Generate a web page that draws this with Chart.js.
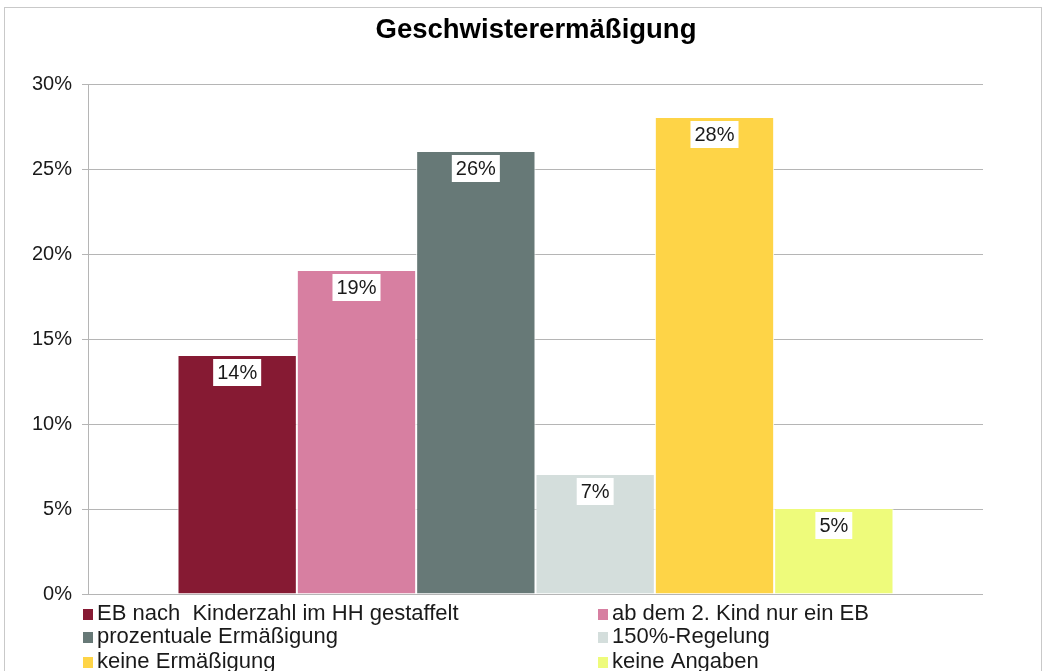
<!DOCTYPE html>
<html>
<head>
<meta charset="utf-8">
<script src="https://cdn.jsdelivr.net/npm/chart.js@4/dist/chart.umd.min.js"></script>
<style>
  html, body { margin: 0; padding: 0; background: #fff; }
  #wrap { position: relative; width: 1048px; height: 671px; }
  #frame { position: absolute; left: 4px; top: 7px; width: 1036px; height: 680px; border: 1px solid #c9c9c9; pointer-events: none; }
  canvas { position: absolute; left: 0; top: 0; }
</style>
</head>
<body>
<div id="wrap">
  <canvas id="chart" width="1048" height="671"></canvas>
  <div id="frame"></div>
</div>
<script>
const FONT = "'Liberation Sans', Arial, sans-serif";

const title = "Geschwisterermäßigung";
const categories = [""];
const seriesLabels = [
  "EB nach  Kinderzahl im HH gestaffelt",
  "ab dem 2. Kind nur ein EB",
  "prozentuale Ermäßigung",
  "150%-Regelung",
  "keine Ermäßigung",
  "keine Angaben"
];
const seriesValues = [14, 19, 26, 7, 28, 5];
const seriesColors = ["#861a33", "#d77fa1", "#677977", "#d4dedc", "#fed447", "#eefb7b"];
const yTicks = [0, 5, 10, 15, 20, 25, 30];

// title drawn by hand so it can sit centred on the whole picture
const pageTitle = {
  id: "pageTitle",
  afterDraw(chart) {
    const ctx = chart.ctx;
    ctx.save();
    ctx.font = "bold 27.5px " + FONT;
    ctx.fillStyle = "#000";
    ctx.textAlign = "center";
    ctx.textBaseline = "alphabetic";
    ctx.fillText(title, 536, 38);
    ctx.restore();
  }
};

// value labels in white boxes at the top of each bar
const valueLabels = {
  id: "valueLabels",
  afterDatasetsDraw(chart) {
    const ctx = chart.ctx;
    ctx.save();
    ctx.font = "20px " + FONT;
    ctx.textAlign = "center";
    ctx.textBaseline = "middle";
    chart.data.datasets.forEach((ds, i) => {
      const bar = chart.getDatasetMeta(i).data[0];
      const text = ds.data[0] + "%";
      const w = ctx.measureText(text).width + 8;
      ctx.fillStyle = "#fff";
      ctx.fillRect(bar.x - w / 2, bar.y + 3, w, 27);
      ctx.fillStyle = "#1a1a1a";
      ctx.fillText(text, bar.x, bar.y + 17);
    });
    ctx.restore();
  }
};

// two-column legend under the plot
const columnLegend = {
  id: "columnLegend",
  afterDraw(chart) {
    const ctx = chart.ctx;
    const boxX = [83, 598];
    const textX = [97, 612];
    const rowY = [614, 637, 662];
    ctx.save();
    ctx.font = "22px " + FONT;
    ctx.textBaseline = "middle";
    ctx.textAlign = "left";
    chart.data.datasets.forEach((ds, i) => {
      const col = i % 2;
      const y = rowY[Math.floor(i / 2)];
      ctx.fillStyle = ds.backgroundColor;
      ctx.fillRect(boxX[col], y - 5, 10, 11);
      ctx.fillStyle = "#1a1a1a";
      ctx.fillText(ds.label, textX[col], y);
    });
    ctx.restore();
  }
};

const ctx = document.getElementById("chart").getContext("2d");
new Chart(ctx, {
  type: "bar",
  data: {
    labels: categories,
    datasets: seriesLabels.map((label, i) => ({
      label: label,
      data: [seriesValues[i]],
      backgroundColor: seriesColors[i],
      borderColor: "#ffffff",
      borderWidth: { left: 1, right: 1, top: 0, bottom: 0 },
      borderSkipped: false,
      categoryPercentage: 0.8,
      barPercentage: 1
    }))
  },
  options: {
    responsive: false,
    animation: false,
    layout: { padding: { left: 0, right: 65, top: 84, bottom: 77 } },
    plugins: {
      legend: { display: false },
      tooltip: { enabled: false },
      title: { display: false }
    },
    scales: {
      x: { display: false },
      y: {
        min: 0,
        max: 30,
        afterBuildTicks(scale) {
          scale.ticks = yTicks.map(v => ({ value: v }));
        },
        afterFit(scale) { scale.width = 88; },
        ticks: {
          color: "#1a1a1a",
          font: { family: FONT, size: 20 },
          padding: 10,
          callback: v => v + "%"
        },
        grid: { color: "#b5b5b5", lineWidth: 1, tickLength: 6 },
        border: { display: true, color: "#b5b5b5" }
      }
    }
  },
  plugins: [valueLabels, columnLegend, pageTitle]
});
</script>
</body>
</html>
